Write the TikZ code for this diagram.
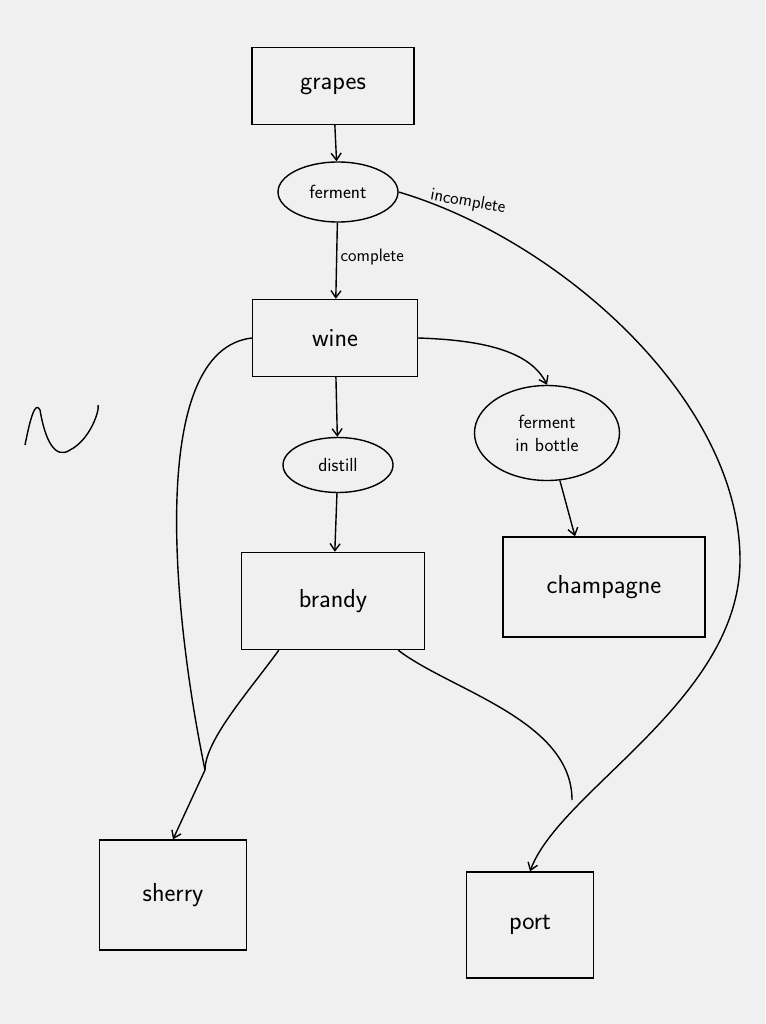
\documentclass[tikz,border=0pt]{standalone}
\usetikzlibrary{shapes.geometric,arrows.meta}
\begin{document}
\begin{tikzpicture}[x=1pt,y=-1pt,line width=1.4pt,
  box/.style={draw,rectangle,font=\sffamily\fontsize{26}{28}\selectfont},
  oval/.style={draw,ellipse,font=\sffamily\fontsize{19}{23}\selectfont,inner sep=0pt,align=center},
  arr/.style={-{Straight Barb[length=7pt,width=10pt]}},
  lbl/.style={font=\sffamily\fontsize{18}{20}\selectfont}]
\fill[gray!12] (0,0) rectangle (765,1024);
\useasboundingbox (0,0) rectangle (765,1024);
\node[box,minimum width=162pt,minimum height=77pt] (grapes) at (333,86) {grapes};
\node[oval,minimum width=120pt,minimum height=60pt] (ferment) at (338,192) {ferment};
\node[box,minimum width=165pt,minimum height=77pt] (wine) at (335,338) {wine};
\node[oval,minimum width=110pt,minimum height=55pt] (distill) at (338,465) {distill};
\node[box,minimum width=183pt,minimum height=97pt] (brandy) at (333,601) {brandy};
\node[oval,minimum width=145pt,minimum height=95pt] (fib) at (547,433) {ferment\\in bottle};
\node[box,minimum width=202pt,minimum height=100pt] (champ) at (604,587) {champagne};
\node[box,minimum width=147pt,minimum height=110pt] (sherry) at (173,895) {sherry};
\node[box,minimum width=127pt,minimum height=106pt] (port) at (530,925) {port};
\coordinate (sj) at (205,770);
\coordinate (pj) at (572,800);
\draw[arr] (grapes) -- (ferment);
\draw[arr] (ferment) -- node[lbl,right,pos=0.45]{complete} (wine);
\draw[arr] (ferment.east) .. controls (560,240) and (740,400) .. (740,560)
   .. controls (740,700) and (560,790) .. (port.north);
\node[lbl,rotate=-10] (inc) at (468,202) {incomplete};
\draw (wine.west) .. controls (150,350) and (170,600) .. (sj);
\draw[arr] (brandy.south west) ++(38,0) .. controls (250,690) and (205,740) .. (sj) -- (sherry.north);
\draw[arr] (wine) -- (distill);
\draw[arr] (distill) -- (brandy);
\draw[arr] (wine.east) .. controls (480,340) and (530,350) .. (fib.north);
\draw[arr] (fib) -- (champ.north -| 575,0);
\draw (brandy.south east) ++(-27,0) .. controls (450,690) and (572,720) .. (pj);
\draw (25,445) .. controls (30,420) and (35,400) .. (40,410) .. controls (45,440) and (55,460) .. (70,450) .. controls (90,440) and (100,410) .. (98,405);
\end{tikzpicture}
\end{document}
